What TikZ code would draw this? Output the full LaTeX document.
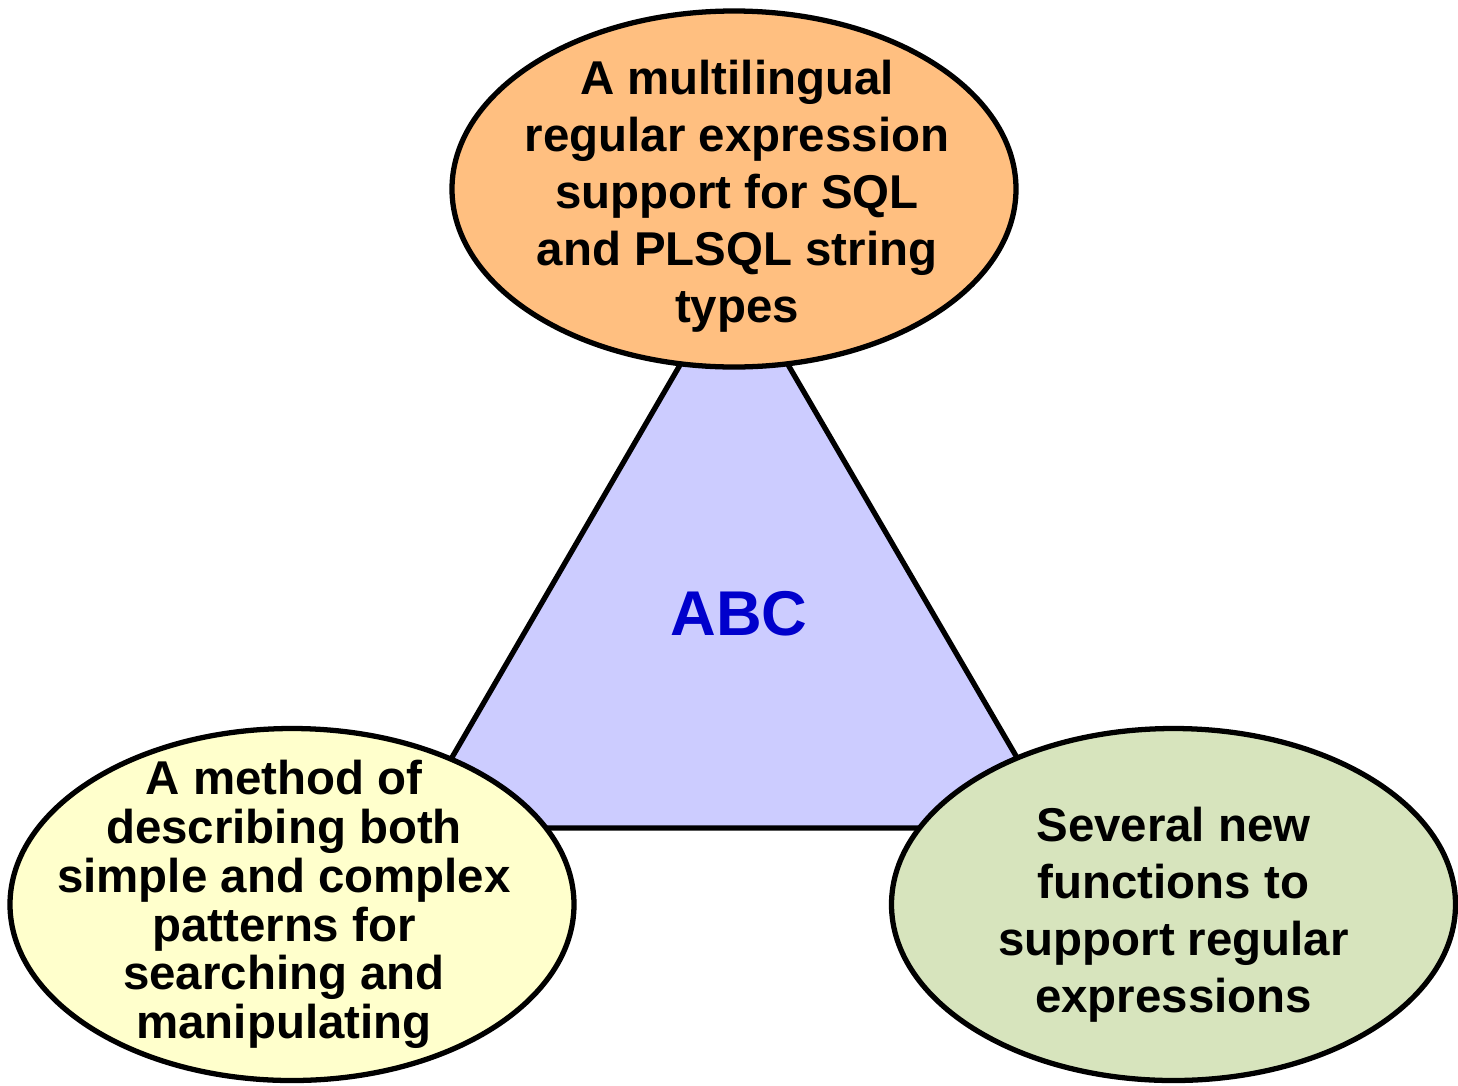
\documentclass[tikz,border=0pt]{standalone}
\usepackage{fontspec}
\setmainfont{Liberation Sans}
\usetikzlibrary{shapes.geometric}

\definecolor{peach}{HTML}{FFBF80}
\definecolor{lilac}{HTML}{CCCCFF}
\definecolor{cream}{HTML}{FFFFCC}
\definecolor{sage}{HTML}{D7E4BD}
\definecolor{abcblue}{HTML}{0000CC}

\tikzset{
  bubble/.style={ellipse, draw=black, line width=1.5pt, minimum width=5.64cm, minimum height=3.52cm, inner sep=0pt},
  bubbletext/.style={align=center, font=\fontsize{13.5}{16.2}\selectfont\bfseries},
}

\begin{document}
\begin{tikzpicture}

    \useasboundingbox (0, 0) rectangle (14.58, -10.85);

    % triangle behind the ellipses
    \coordinate (apex) at (7.34, -2.72);
    \coordinate (bl) at (4.11, -8.28);
    \coordinate (br) at (10.58, -8.28);
    \filldraw [fill=lilac, line width=1.5pt, line join=miter] (apex) -- (bl) -- (br) -- cycle;
    \node (abc) at (7.39, -6.14) {\fontsize{18}{21}\selectfont\bfseries\color{abcblue}ABC};

    \node [bubble, fill=peach, minimum height=3.56cm] (top) at (7.34, -1.89) {};
    \node [bubble, fill=cream] (left) at (2.92, -9.045) {};
    \node [bubble, fill=sage] (right) at (11.735, -9.045) {};

    \node [bubbletext, xshift=0.03cm, yshift=-0.07cm] (toptext) at (top) {A multilingual\\regular expression\\support for SQL\\and PLSQL string\\types};
    \node [bubbletext, font=\fontsize{13.5}{13.9}\selectfont\bfseries, xshift=-0.08cm] (lefttext) at (left)
      {A method of\\describing both\\simple and complex\\patterns for\\searching and\\manipulating};
    \node [bubbletext, yshift=-0.1cm] (righttext) at (right) {Several new\\functions to\\support regular\\expressions};

\end{tikzpicture}
\end{document}
